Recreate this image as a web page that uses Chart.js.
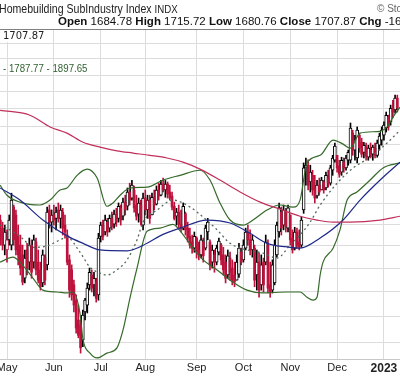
<!DOCTYPE html>
<html>
<head>
<meta charset="utf-8">
<script src="https://cdn.jsdelivr.net/npm/chart.js@4.4.0/dist/chart.umd.min.js"></script>
<style>
  html, body { margin: 0; padding: 0; background: #fff; }
  #wrap { position: relative; width: 400px; height: 376px; overflow: hidden; background: #fff; }
  #c { position: absolute; left: 0; top: 0; }
  .txt { position: absolute; white-space: nowrap; pointer-events: none; }
</style>
</head>
<body>
<div id="wrap">
  <canvas id="c" width="400" height="376"></canvas>
  <div class="txt" style="left:-1px; top:2px; font:12px 'Liberation Sans', Arial, sans-serif; color:#222; transform:scaleX(0.88); transform-origin:0 0;">Homebuilding SubIndustry Index <span style="font-size:11px">INDX</span></div>
  <div class="txt" style="left:377px; top:3px; font:10px 'Liberation Sans', Arial, sans-serif; color:#666;">© StockCharts.com</div>
  <div class="txt" style="left:58px; top:15px; font:11.5px 'Liberation Sans', Arial, sans-serif; color:#111;"><b>Open</b> 1684.78 <b>High</b> 1715.72 <b>Low</b> 1680.76 <b>Close</b> 1707.87 <b>Chg</b> -16.20</div>
  <div class="txt" style="left:3px; top:30px; font:10px 'DejaVu Sans', sans-serif; color:#222; background:#fff; line-height:12px;">1707.87</div>
  <div class="txt" style="right:313px; top:62px; font:11px 'Liberation Sans', Arial, sans-serif; color:#2f5f2f; transform:scaleX(0.88); transform-origin:100% 0;">BB(20,2.0) 1677.89 - 1787.77 - 1897.65</div>
</div>
<script>
// trading day index: 0 = May 2 2022, first candle is 3 days earlier
const firstDay = -3;

const monthStarts = [0, 21, 42, 62, 85, 106, 127, 148, 169];
const monthLabels = ['May', 'Jun', 'Jul', 'Aug', 'Sep', 'Oct', 'Nov', 'Dec', '2023'];

const yGrid = [1100, 1150, 1200, 1250, 1300, 1350, 1400, 1450, 1500, 1550, 1600, 1650, 1700, 1750, 1800, 1850];
const yMin = 1068;
const yMax = 1896;

const highs = [
  1372,1355,1348,1337,1372,1425,1396,1384,1348,1325,
  1302,1291,1306,1318,1314,1325,1318,1291,1264,1291,
  1280,1391,1396,1384,1396,1391,1401,1396,1388,1372,
  1337,1280,1258,1225,1194,1173,1143,1163,1187,1219,
  1251,1247,1242,1229,1329,1355,1360,1372,1364,1372,
  1379,1384,1388,1401,1396,1413,1420,1438,1450,1457,
  1443,1420,1413,1408,1425,1433,1420,1420,1425,1433,
  1443,1450,1457,1463,1457,1453,1445,1428,1403,1388,
  1396,1384,1401,1379,1355,1341,1325,1332,1321,1309,
  1325,1318,1348,1364,1314,1302,1291,1302,1318,1306,
  1297,1280,1291,1286,1269,1264,1280,1306,1295,1314,
  1341,1348,1337,1325,1302,1291,1284,1280,1273,1325,
  1314,1264,1269,1314,1355,1401,1391,1396,1388,1396,
  1372,1337,1343,1341,1337,1367,1502,1515,1510,1496,
  1483,1470,1457,1463,1465,1457,1478,1483,1496,1522,
  1555,1522,1509,1517,1515,1522,1536,1610,1590,1576,
  1599,1582,1568,1557,1555,1549,1555,1549,1555,1563,
  1582,1599,1613,1641,1632,1661,1675,1690,1690
];

const lows = [
  1302,1291,1280,1264,1302,1291,1302,1280,1258,1236,
  1215,1219,1236,1247,1229,1251,1236,1219,1204,1211,
  1215,1247,1341,1332,1348,1337,1355,1341,1325,1318,
  1258,1189,1183,1159,1117,1108,1079,1091,1143,1157,
  1204,1200,1192,1179,1183,1309,1314,1325,1322,1332,
  1337,1341,1345,1355,1348,1360,1372,1384,1396,1408,
  1379,1360,1355,1348,1337,1372,1364,1352,1372,1384,
  1396,1408,1418,1428,1415,1413,1408,1384,1360,1348,
  1341,1332,1337,1325,1309,1295,1284,1286,1273,1269,
  1273,1264,1291,1314,1247,1251,1242,1258,1280,1258,
  1236,1219,1229,1225,1215,1211,1225,1231,1258,1264,
  1291,1302,1280,1275,1211,1204,1189,1204,1200,1258,
  1198,1189,1198,1215,1275,1320,1325,1337,1332,1332,
  1302,1284,1291,1295,1291,1297,1376,1445,1433,1428,
  1420,1401,1413,1420,1433,1425,1433,1440,1445,1470,
  1504,1478,1465,1470,1478,1483,1496,1502,1522,1509,
  1502,1530,1517,1515,1509,1509,1515,1509,1515,1517,
  1536,1549,1563,1585,1590,1604,1624,1638,1641
];

const opens = [
  1360,1341,1302,1291,1314,1302,1391,1372,1325,1302,
  1280,1229,1291,1264,1302,1264,1309,1264,1247,1219,
  1273,1258,1384,1355,1372,1364,1384,1364,1379,1348,
  1325,1269,1247,1215,1183,1143,1133,1104,1159,1173,
  1215,1236,1215,1221,1194,1322,1348,1332,1355,1341,
  1364,1350,1374,1364,1389,1369,1403,1393,1428,1413,
  1432,1396,1374,1396,1348,1413,1384,1408,1372,1415,
  1398,1433,1420,1448,1433,1448,1428,1418,1393,1369,
  1379,1350,1341,1375,1341,1322,1309,1295,1318,1291,
  1280,1309,1295,1332,1309,1264,1280,1264,1286,1302,
  1280,1264,1236,1273,1251,1236,1225,1238,1286,1269,
  1295,1332,1314,1291,1295,1236,1264,1215,1264,1264,
  1302,1215,1204,1219,1280,1332,1379,1348,1379,1341,
  1372,1318,1295,1332,1309,1302,1384,1489,1496,1453,
  1470,1438,1418,1445,1433,1453,1438,1463,1450,1483,
  1509,1522,1494,1478,1504,1489,1509,1509,1582,1536,
  1515,1576,1557,1530,1544,1517,1536,1525,1541,1522,
  1549,1563,1576,1596,1627,1613,1652,1647,1681
];

const closes = [
  1314,1302,1332,1314,1360,1408,1314,1291,1280,1251,
  1221,1273,1251,1302,1242,1314,1247,1225,1211,1280,
  1225,1379,1355,1372,1360,1379,1364,1384,1341,1332,
  1264,1204,1194,1173,1127,1113,1089,1153,1183,1208,
  1242,1208,1229,1187,1318,1348,1322,1360,1332,1364,
  1345,1374,1355,1393,1360,1403,1384,1428,1408,1445,
  1389,1369,1401,1360,1413,1384,1408,1364,1415,1396,
  1433,1418,1448,1433,1448,1423,1413,1391,1364,1379,
  1350,1341,1393,1337,1318,1302,1295,1322,1286,1280,
  1314,1278,1341,1355,1258,1291,1264,1295,1311,1269,
  1247,1229,1278,1242,1225,1221,1264,1295,1264,1302,
  1332,1314,1291,1314,1225,1264,1204,1258,1215,1309,
  1208,1200,1258,1302,1348,1389,1341,1384,1345,1389,
  1314,1291,1332,1302,1297,1360,1489,1496,1445,1478,
  1433,1413,1445,1428,1458,1433,1470,1450,1489,1515,
  1547,1489,1473,1509,1489,1515,1530,1596,1536,1563,
  1590,1542,1525,1549,1520,1541,1522,1544,1522,1555,
  1574,1590,1604,1632,1599,1652,1641,1681,1652
];

// overlays as [day, value]
const ma200 = [[-3.1,1646],[10.3,1632],[19.3,1599],[26.9,1582],[34.1,1557],[41.7,1544],[49.3,1534],[56.5,1528],[64.1,1522],[71.7,1515],[78.9,1504],[86.5,1486],[95.5,1458],[104.5,1428],[113.5,1403],[122.4,1386],[131.4,1369],[139,1360],[146.2,1355],[153.8,1355],[167.3,1360],[176.2,1369]];
const ma50 = [[-3.1,1438],[5.8,1408],[16.1,1360],[26.9,1323],[34.1,1306],[41.7,1291],[53.8,1289],[62.8,1306],[68.6,1323],[77.6,1341],[89.7,1360],[100,1353],[109,1329],[116.6,1306],[126.9,1297],[131.4,1295],[140.4,1318],[150.7,1360],[158.3,1408],[167.3,1458],[176.2,1504]];
const bbUpper = [[-3.1,1445],[0,1420],[5.8,1403],[14.8,1396],[19.3,1408],[23.8,1433],[26.9,1438],[31.4,1470],[35.9,1486],[40.4,1463],[44.8,1393],[47.5,1401],[50.7,1420],[55.2,1438],[62.8,1440],[70,1458],[77.6,1470],[86.5,1483],[91,1458],[95.5,1401],[100,1360],[105.8,1348],[110.3,1360],[116.6,1384],[122.4,1396],[128.3,1391],[131.4,1408],[134.5,1502],[140.4,1522],[146.2,1563],[150.7,1552],[153.8,1541],[158.3,1582],[167.3,1587],[170.4,1599],[173.1,1627],[176.2,1655]];
const bbLower = [[-3.1,1264],[2.7,1275],[5.8,1264],[11.7,1229],[16.1,1204],[22.4,1200],[26.9,1198],[29.6,1200],[32.7,1157],[34.1,1104],[37.2,1079],[40.4,1070],[44.8,1079],[49.3,1089],[52,1123],[55.2,1189],[58.3,1251],[62.8,1334],[68.6,1341],[74.4,1350],[78.5,1329],[83.4,1295],[87.9,1269],[94.2,1247],[100,1225],[107.6,1204],[114.8,1198],[125.6,1200],[131.4,1200],[134.5,1189],[137.2,1183],[139,1189],[140.4,1236],[141.7,1264],[146.2,1295],[149.3,1337],[152.5,1408],[156.9,1428],[162.8,1458],[168.6,1489],[176.2,1502]];
const bbMid = [[-3.1,1348],[1.3,1337],[7.2,1316],[11.7,1297],[17.9,1300],[23.8,1314],[26.9,1320],[32.7,1286],[37.2,1253],[41.7,1240],[44.8,1236],[49.3,1247],[53.8,1269],[58.3,1314],[61,1355],[67.3,1384],[74.4,1408],[82.1,1391],[87.9,1367],[94.2,1337],[100,1306],[107.6,1291],[114.8,1284],[121.1,1273],[126.9,1302],[131.4,1325],[135.9,1355],[140.4,1396],[148,1450],[155.2,1489],[162.8,1517],[170.4,1555],[176.2,1590]];

const RED = '#bd123c';
const BLACK = '#000000';

const dayX = closes.map((c, k) => firstDay + k);
const candleColor = closes.map((c, k) => (k > 0 && c < closes[k - 1]) || (k === 0 && c < opens[k]) ? RED : BLACK);

const wickData = dayX.map((x, k) => ({ x: x, y: [lows[k], highs[k]] }));
const filledData = [];
const filledColor = [];
const hollowData = [];
const hollowColor = [];
dayX.forEach((x, k) => {
    if (closes[k] > opens[k]) {
        hollowData.push({ x: x, y: [opens[k], closes[k]] });
        hollowColor.push(candleColor[k]);
    } else {
        filledData.push({ x: x, y: [closes[k], opens[k]] });
        filledColor.push(candleColor[k]);
    }
});

function lineSet(points, color, dash, width) {
    return {
        type: 'line',
        data: points.map(p => ({ x: p[0], y: p[1] })),
        borderColor: color,
        borderWidth: width || 1.2,
        borderDash: dash || [],
        pointRadius: 0,
        fill: false,
        cubicInterpolationMode: 'monotone',
        order: 0
    };
}

new Chart(document.getElementById('c').getContext('2d'), {
    type: 'bar',
    data: {
        datasets: [
            lineSet(ma200, '#c0305a'),
            lineSet(ma50, '#1f2a8a'),
            lineSet(bbUpper, '#356a2a'),
            lineSet(bbLower, '#356a2a'),
            lineSet(bbMid, '#55695a', [2, 3], 1.3),
            { data: filledData, backgroundColor: filledColor, barThickness: 2, grouped: false, order: 1 },
            { data: hollowData, backgroundColor: '#ffffff', borderColor: hollowColor, borderWidth: 1, borderSkipped: false, barThickness: 3, grouped: false, order: 1 },
            { data: wickData, backgroundColor: candleColor, barThickness: 1, grouped: false, order: 2 }
        ]
    },
    options: {
        responsive: false,
        animation: false,
        devicePixelRatio: 1,
        layout: { padding: { top: 29, left: 0, right: 0, bottom: 0 } },
        plugins: {
            legend: { display: false },
            tooltip: { enabled: false }
        },
        scales: {
            x: {
                type: 'linear',
                min: -3.14,
                max: 176.2,
                offset: false,
                afterBuildTicks: s => { s.ticks = monthStarts.map(v => ({ value: v })); },
                afterFit: s => {
                    s.height = 17;
                    // month labels may run past the edges, like the cropped original
                    s.paddingLeft = 0;
                    s.paddingRight = 0;
                },
                ticks: {
                    autoSkip: false,
                    maxRotation: 0,
                    padding: 2,
                    color: '#222',
                    font: c => (c.index === monthLabels.length - 1)
                        ? { family: "'Liberation Sans', Arial", size: 12, weight: 'bold' }
                        : { family: "'Liberation Sans', Arial", size: 11 },
                    callback: (v, i) => monthLabels[i]
                },
                grid: { color: '#dcdcdc', drawTicks: false, offset: false },
                border: { color: '#c8c8c8' }
            },
            y: {
                type: 'logarithmic',
                position: 'right',
                min: yMin,
                max: yMax,
                afterBuildTicks: s => { s.ticks = [yMax].concat(yGrid).map(v => ({ value: v })); },
                afterFit: s => { s.width = 0; },
                ticks: { display: false },
                grid: {
                    color: c => (c.tick && c.tick.value === yMax) ? '#808080' : '#dcdcdc',
                    drawTicks: false
                },
                border: { display: false }
            }
        }
    }
});
</script>
</body>
</html>
